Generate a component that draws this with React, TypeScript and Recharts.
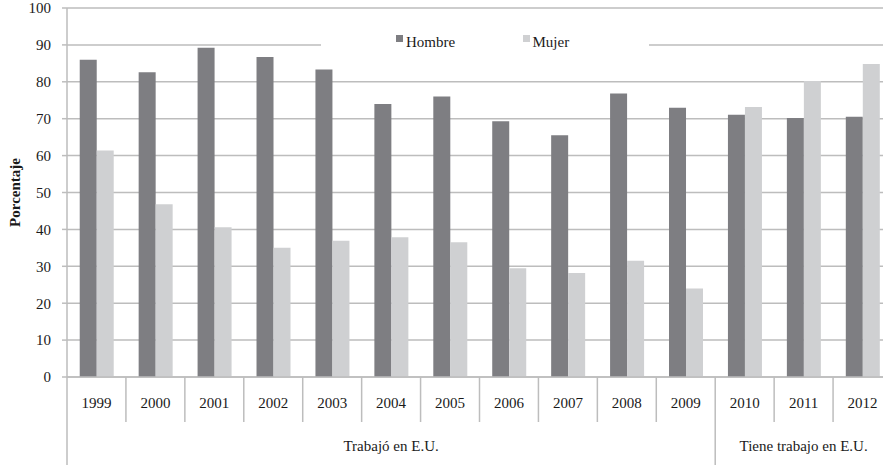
import React from 'react';
import { BarChart, Bar, XAxis, YAxis, CartesianGrid, Legend, Label } from 'recharts';

const years = ['1999', '2000', '2001', '2002', '2003', '2004', '2005', '2006', '2007', '2008', '2009', '2010', '2011', '2012'];
const hombre = [86, 82.6, 89.2, 86.7, 83.3, 74, 76, 69.3, 65.5, 76.8, 73, 71.1, 70.2, 70.5];
const mujer = [61.4, 46.8, 40.6, 35, 36.9, 37.9, 36.5, 29.5, 28.2, 31.5, 24, 73.2, 80.2, 84.8];
const grupos = ['Trabajó en E.U.', 'Trabajó en E.U.', 'Trabajó en E.U.', 'Trabajó en E.U.', 'Trabajó en E.U.', 'Trabajó en E.U.', 'Trabajó en E.U.', 'Trabajó en E.U.', 'Trabajó en E.U.', 'Trabajó en E.U.', 'Trabajó en E.U.', 'Tiene trabajo en E.U.', 'Tiene trabajo en E.U.', 'Tiene trabajo en E.U.'];
const yTicks = [0, 10, 20, 30, 40, 50, 60, 70, 80, 90, 100];

const data = years.map((y, i) => ({ year: y, hombre: hombre[i], mujer: mujer[i], grupo: grupos[i] }));

const W = 900;
const H = 465;
const Y_W = 67;
const M_RIGHT = 8;
const BAND = (W - Y_W - M_RIGHT) / years.length;
const FONT = "'Liberation Serif', 'DejaVu Serif', serif";
const LINE = '#bdbdbd';
const TEXT = '#1a1a1a';

// group runs -> middle index of each run
const runs: { label: string; start: number; end: number }[] = [];
grupos.forEach((g, i) => {
    const last = runs[runs.length - 1];
    if (last && last.label === g) last.end = i;
    else runs.push({ label: g, start: i, end: i });
});

const YearTick = (props: any) => {
    const { x, y, payload, index } = props;
    return (
        <g>
            <line x1={x - BAND / 2} x2={x - BAND / 2} y1={y} y2={y + 45} stroke={LINE} strokeWidth={1.5} />
            {index === years.length - 1 && (
                <line x1={x + BAND / 2} x2={x + BAND / 2} y1={y} y2={y + 45} stroke={LINE} strokeWidth={1.5} />
            )}
            <text x={x} y={y + 31} textAnchor="middle" style={{ fontFamily: FONT, fontSize: 15 }} fill={TEXT}>
                {payload.value}
            </text>
        </g>
    );
};

const GroupTick = (props: any) => {
    const { x, y, index } = props;
    const startRun = runs.find((r) => r.start === index);
    const midRun = runs.find((r) => Math.floor((r.start + r.end) / 2) === index);
    const lastRun = runs.find((r) => r.end === index && index === years.length - 1);
    return (
        <g>
            {startRun && <line x1={x - BAND / 2} x2={x - BAND / 2} y1={y} y2={y + 43} stroke={LINE} strokeWidth={1.5} />}
            {lastRun && <line x1={x + BAND / 2} x2={x + BAND / 2} y1={y} y2={y + 43} stroke={LINE} strokeWidth={1.5} />}
            {midRun && (
                <text
                    x={x + (((midRun.start + midRun.end) / 2) - index) * BAND}
                    y={y + 29}
                    textAnchor="middle"
                    style={{ fontFamily: FONT, fontSize: 15 }}
                    fill={TEXT}
                >
                    {midRun.label}
                </text>
            )}
        </g>
    );
};

const LegendBox = (props: any) => {
    const { payload } = props;
    return (
        <div style={{ display: 'flex', paddingLeft: 75, background: '#fff', height: 28, fontFamily: FONT, fontSize: 15, color: TEXT }}>
            {(payload || []).map((entry: any) => (
                <div key={entry.value} style={{ width: 135, position: 'relative', height: 28 }}>
                    <span style={{ position: 'absolute', left: 0, top: 6, width: 7, height: 7, background: entry.color }} />
                    <span style={{ position: 'absolute', left: 10, top: 6, lineHeight: '15px', whiteSpace: 'nowrap', fontFamily: FONT }}>{entry.value}</span>
                </div>
            ))}
        </div>
    );
};

export default function App() {
    return (
        <div style={{ position: 'fixed', left: 0, top: 0, width: 883, height: 465, overflow: 'hidden', background: '#fff', fontFamily: FONT }}>
            <BarChart
                width={W}
                height={H}
                data={data}
                margin={{ top: 8, right: M_RIGHT, bottom: 0, left: 0 }}
                barCategoryGap="21.6%"
                barGap={0}
                style={{ fontFamily: FONT }}
            >
                <CartesianGrid xAxisId="a_year" vertical={false} stroke={LINE} strokeWidth={1.5} />
                <XAxis
                    xAxisId="a_year"
                    dataKey="year"
                    height={45}
                    interval={0}
                    tickLine={false}
                    tickSize={0}
                    tickMargin={0}
                    axisLine={{ stroke: LINE, strokeWidth: 1.5 }}
                    tick={<YearTick />}
                />
                <XAxis
                    xAxisId="b_grp"
                    dataKey="year"
                    height={43}
                    interval={0}
                    tickLine={false}
                    tickSize={0}
                    tickMargin={0}
                    axisLine={false}
                    tick={<GroupTick />}
                />
                <YAxis
                    width={Y_W}
                    domain={[0, 100]}
                    ticks={yTicks}
                    interval={0}
                    tickSize={5}
                    tickMargin={11}
                    axisLine={{ stroke: LINE, strokeWidth: 1.5 }}
                    tickLine={{ stroke: LINE, strokeWidth: 1.5 }}
                    tick={{ fontSize: 15, fill: TEXT, style: { fontFamily: FONT } }}
                >
                    <Label
                        content={(p: any) => {
                            const vb = p.viewBox || {};
                            const cx = 14.5;
                            const cy = vb.y + vb.height / 2;
                            return (
                                <text
                                    x={cx}
                                    y={cy}
                                    transform={`rotate(-90 ${cx} ${cy})`}
                                    textAnchor="middle"
                                    dominantBaseline="central"
                                    style={{ fontFamily: FONT, fontSize: 15, fontWeight: 'bold' }}
                                    fill={TEXT}
                                >
                                    Porcentaje
                                </text>
                            );
                        }}
                    />
                </YAxis>
                <Legend
                    layout="horizontal"
                    verticalAlign="middle"
                    align="center"
                    content={<LegendBox />}
                    wrapperStyle={{ top: 29, left: 321, width: 328, height: 28 }}
                />
                <Bar xAxisId="a_year" dataKey="hombre" name="Hombre" fill="#7e7e82" isAnimationActive={false} />
                <Bar xAxisId="a_year" dataKey="mujer" name="Mujer" fill="#cfd0d2" isAnimationActive={false} />
            </BarChart>
        </div>
    );
}
